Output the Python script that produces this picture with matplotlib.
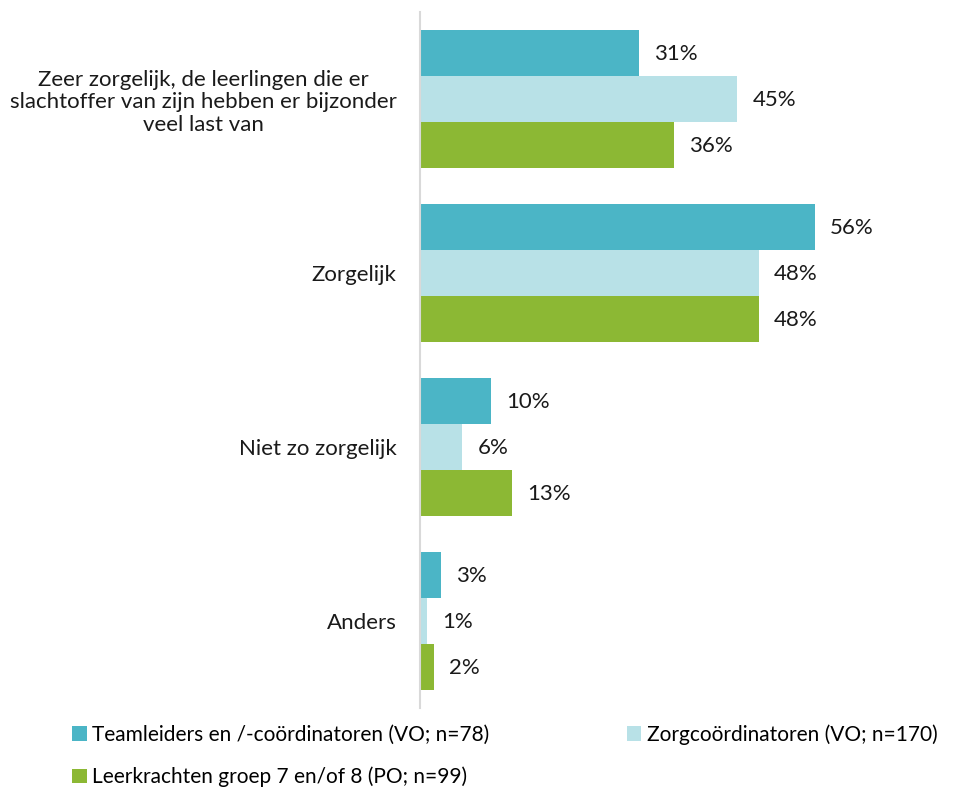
import matplotlib.pyplot as plt
import numpy as np

categories = [
    "Zeer zorgelijk, de leerlingen die er\nslachtoffer van zijn hebben er bijzonder\nveel last van",
    "Zorgelijk",
    "Niet zo zorgelijk",
    "Anders",
]
series_names = [
    "Teamleiders en /-coördinatoren (VO; n=78)",
    "Zorgcoördinatoren (VO; n=170)",
    "Leerkrachten groep 7 en/of 8 (PO; n=99)",
]
teamleiders = [31, 56, 10, 3]
zorgcoord = [45, 48, 6, 1]
leerkrachten = [36, 48, 13, 2]

COLORS = ["#4BB5C6", "#B8E1E7", "#8CB834"]
FS = 16

plt.rcParams.update({"font.family": ["Lato", "DejaVu Sans"]})

fig = plt.figure(figsize=(9.57, 7.87), dpi=100)
ax = fig.add_axes([420 / 957, (787 - 708) / 787, 536 / 957, 696 / 787])

y = np.arange(len(categories))
bar_h = 46 / 174
handles = []
for i, (vals, color, name) in enumerate(zip([teamleiders, zorgcoord, leerkrachten], COLORS, series_names)):
    pos = y + (i - 1) * bar_h
    bars = ax.barh(pos, vals, height=bar_h, color=color, label=name)
    handles.append(bars)
    for p, v in zip(pos, vals):
        ax.annotate(f"{v}%", (v, p), xytext=(11, -1), textcoords="offset points",
                    ha="left", va="center", fontsize=FS, color="#1a1a1a")

ax.set_xlim(0, 76)
ax.set_ylim(len(categories) - 0.5, -0.5)
ax.set_yticks(y)
ax.set_yticklabels(categories, fontsize=FS, color="#1a1a1a",
                   multialignment="center", linespacing=1.15)
ax.tick_params(axis="y", length=0, pad=17)
ax.set_xticks([])
for s in ("top", "right", "bottom"):
    ax.spines[s].set_visible(False)
ax.spines["left"].set_color("#D9D9D9")
ax.spines["left"].set_linewidth(1.5)

fig.legend([handles[0], handles[2], handles[1]],
           [series_names[0], series_names[2], series_names[1]],
           loc="upper left", bbox_to_anchor=(64 / 957, 1 - 716 / 787), ncol=2,
           frameon=False, fontsize=15, handlelength=0.7, handleheight=0.7,
           handletextpad=0.25, columnspacing=6.6, labelspacing=1.05,
           borderaxespad=0)

fig.savefig("out.png", dpi=100)
